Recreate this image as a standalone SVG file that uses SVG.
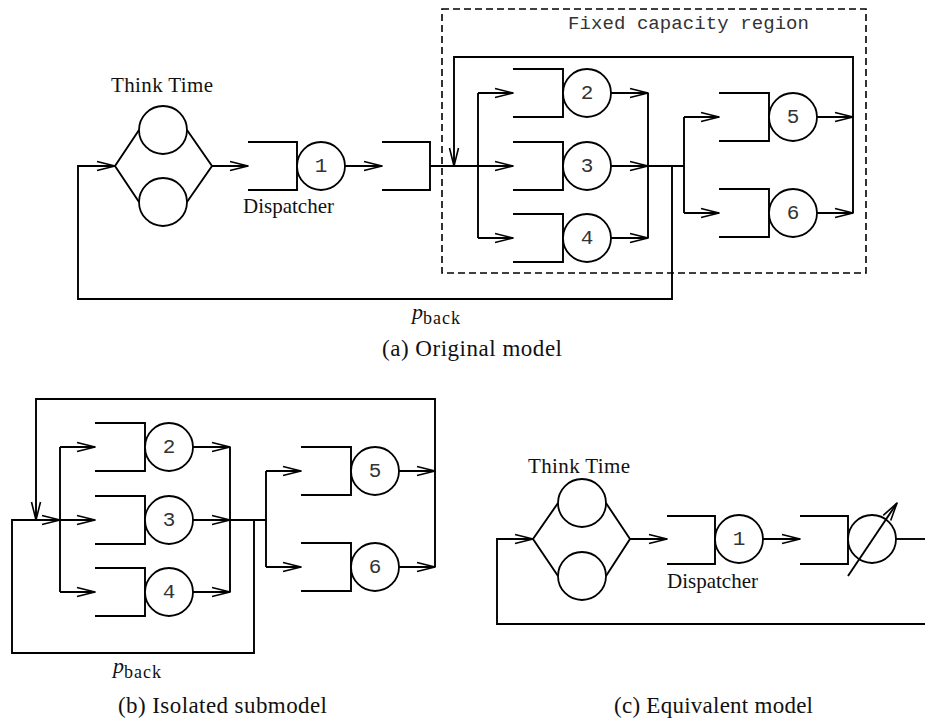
<svg xmlns="http://www.w3.org/2000/svg" width="925" height="724" viewBox="0 0 925 724">
  <defs>
    <marker id="arr" viewBox="0 0 18 10" refX="18" refY="5" markerWidth="18" markerHeight="10" markerUnits="userSpaceOnUse" orient="auto" overflow="visible">
      <path d="M0,0.5 L18,5 L0,9.5" fill="none" stroke="#000" stroke-width="1.6" stroke-linejoin="round"/>
    </marker>
  </defs>
  <style>
    .ln { fill: none; stroke: #000; stroke-width: 1.9; }
    .ar { fill: none; stroke: #000; stroke-width: 1.9; marker-end: url(#arr); }
    .q { fill: none; stroke: #000; stroke-width: 1.9; }
    .srv { fill: #fff; stroke: #000; stroke-width: 1.8; }
    .num { font-family: "Liberation Mono", "DejaVu Sans Mono", monospace; font-size: 21px; fill: #333; text-anchor: middle; dominant-baseline: central; }
    .mono { font-family: "Liberation Mono", "DejaVu Sans Mono", monospace; font-size: 19px; fill: #333; }
    .lbl { font-family: "Liberation Serif", "Times New Roman", serif; font-size: 21px; fill: #111; }
    .cap { font-family: "Liberation Serif", "Times New Roman", serif; font-size: 23px; fill: #111; }
    .region { fill: none; stroke: #000; stroke-width: 1.6; stroke-dasharray: 7 4; }
  </style>

  <!-- ===== (a) Original model ===== -->
  <g id="model-a">
    <g id="think-a">
      <text class="lbl" x="162" y="92" text-anchor="middle" textLength="102">Think Time</text>
      <circle class="srv" cx="163" cy="130" r="24"/>
      <circle class="srv" cx="163" cy="202" r="24"/>
      <path class="ln" d="M139,130 L115,166 L139,202 M187,130 L212,166 L187,202"/>
    </g>
    <g id="dispatcher-a">
      <path class="q" d="M248,142 H297 V190 H248"/>
      <circle class="srv" cx="321" cy="166" r="24"/>
      <text class="num" x="321" y="166">1</text>
      <text class="lbl" x="243" y="213" textLength="91">Dispatcher</text>
    </g>
    <g id="queue-a">
      <path class="q" d="M382,142 H430 V190 H382"/>
    </g>
    <g id="region-a">
      <rect class="region" x="442" y="9" width="424" height="264"/>
      <text class="mono" x="568" y="29" textLength="241">Fixed capacity region</text>
    </g>
    <g id="st2-a">
      <path class="q" d="M513,69 H563 V117 H513"/>
      <circle class="srv" cx="587" cy="93" r="24"/>
      <text class="num" x="587" y="93">2</text>
    </g>
    <g id="st3-a">
      <path class="q" d="M513,142 H563 V190 H513"/>
      <circle class="srv" cx="587" cy="166" r="24"/>
      <text class="num" x="587" y="166">3</text>
    </g>
    <g id="st4-a">
      <path class="q" d="M513,214 H563 V262 H513"/>
      <circle class="srv" cx="587" cy="238" r="24"/>
      <text class="num" x="587" y="238">4</text>
    </g>
    <g id="st5-a">
      <path class="q" d="M719,93 H769 V141 H719"/>
      <circle class="srv" cx="793" cy="117" r="24"/>
      <text class="num" x="793" y="117">5</text>
    </g>
    <g id="st6-a">
      <path class="q" d="M719,189 H769 V237 H719"/>
      <circle class="srv" cx="793" cy="213" r="24"/>
      <text class="num" x="793" y="213">6</text>
    </g>
    <g id="connectors-a">
      <path class="ar" d="M672,166 V299 H78 V166 H115"/>
      <path class="ar" d="M212,166 H248"/>
      <path class="ar" d="M345,166 H382"/>
      <path class="ln" d="M430,166 H478 M478,93 V238"/>
      <path class="ar" d="M853,213 V57 H454 V166"/>
      <path class="ar" d="M478,93 H513"/>
      <path class="ar" d="M478,166 H513"/>
      <path class="ar" d="M478,238 H513"/>
      <path class="ar" d="M611,93 H648"/>
      <path class="ar" d="M611,166 H648"/>
      <path class="ar" d="M611,238 H648"/>
      <path class="ln" d="M648,93 V238 M648,166 H684 M684,117 V213"/>
      <path class="ar" d="M684,117 H719"/>
      <path class="ar" d="M684,213 H719"/>
      <path class="ar" d="M817,117 H853"/>
      <path class="ar" d="M817,213 H853"/>
    </g>
    <text class="lbl" x="412" y="319"><tspan font-style="italic" font-size="22">p</tspan><tspan dy="5" font-size="18" textLength="37">back</tspan></text>
  </g>
  <text class="cap" x="382" y="356" textLength="180">(a)  Original model</text>

  <!-- ===== (b) Isolated submodel ===== -->
  <g id="model-b" transform="translate(-418,354)">
    <g id="st2-b">
      <path class="q" d="M513,69 H563 V117 H513"/>
      <circle class="srv" cx="587" cy="93" r="24"/>
      <text class="num" x="587" y="93">2</text>
    </g>
    <g id="st3-b">
      <path class="q" d="M513,142 H563 V190 H513"/>
      <circle class="srv" cx="587" cy="166" r="24"/>
      <text class="num" x="587" y="166">3</text>
    </g>
    <g id="st4-b">
      <path class="q" d="M513,214 H563 V262 H513"/>
      <circle class="srv" cx="587" cy="238" r="24"/>
      <text class="num" x="587" y="238">4</text>
    </g>
    <g id="st5-b">
      <path class="q" d="M719,93 H769 V141 H719"/>
      <circle class="srv" cx="793" cy="117" r="24"/>
      <text class="num" x="793" y="117">5</text>
    </g>
    <g id="st6-b">
      <path class="q" d="M719,189 H769 V237 H719"/>
      <circle class="srv" cx="793" cy="213" r="24"/>
      <text class="num" x="793" y="213">6</text>
    </g>
    <g id="connectors-b">
      <path class="ar" d="M672,166 V299 H430 V166 H478"/>
      <path class="ln" d="M478,93 V238"/>
      <path class="ar" d="M853,213 V45 H454 V166"/>
      <path class="ar" d="M478,93 H513"/>
      <path class="ar" d="M478,166 H513"/>
      <path class="ar" d="M478,238 H513"/>
      <path class="ar" d="M611,93 H648"/>
      <path class="ar" d="M611,166 H648"/>
      <path class="ar" d="M611,238 H648"/>
      <path class="ln" d="M648,93 V238 M648,166 H684 M684,117 V213"/>
      <path class="ar" d="M684,117 H719"/>
      <path class="ar" d="M684,213 H719"/>
      <path class="ar" d="M817,117 H853"/>
      <path class="ar" d="M817,213 H853"/>
    </g>
    <text class="lbl" x="531" y="319"><tspan font-style="italic" font-size="22">p</tspan><tspan dy="5" font-size="18" textLength="37">back</tspan></text>
  </g>
  <text class="cap" x="118" y="713" textLength="209">(b)  Isolated submodel</text>

  <!-- ===== (c) Equivalent model ===== -->
  <g id="model-c" transform="translate(418,373)">
    <g id="think-c">
      <text class="lbl" x="161" y="100" text-anchor="middle" textLength="102">Think Time</text>
      <circle class="srv" cx="164" cy="130" r="24"/>
      <circle class="srv" cx="164" cy="203" r="24"/>
      <path class="ln" d="M140,130 L115,166 L140,203 M188,130 L212,166 L188,203"/>
    </g>
    <g id="dispatcher-c">
      <path class="q" d="M249,143 H297 V191 H249"/>
      <circle class="srv" cx="321" cy="166" r="24"/>
      <text class="num" x="321" y="166">1</text>
      <text class="lbl" x="249" y="215" textLength="91">Dispatcher</text>
    </g>
    <g id="flow-equivalent-c">
      <path class="q" d="M382,143 H430 V191 H382"/>
      <circle class="srv" cx="454" cy="166" r="24"/>
      <path class="ar" d="M430,203 L479,130"/>
    </g>
    <g id="connectors-c">
      <path class="ar" d="M507,251 H79 V166 H115"/>
      <path class="ar" d="M212,166 H249"/>
      <path class="ar" d="M345,166 H382"/>
      <path class="ln" d="M478,166 H507"/>
    </g>
  </g>
  <text class="cap" x="614" y="713" textLength="199">(c)  Equivalent model</text>
</svg>
